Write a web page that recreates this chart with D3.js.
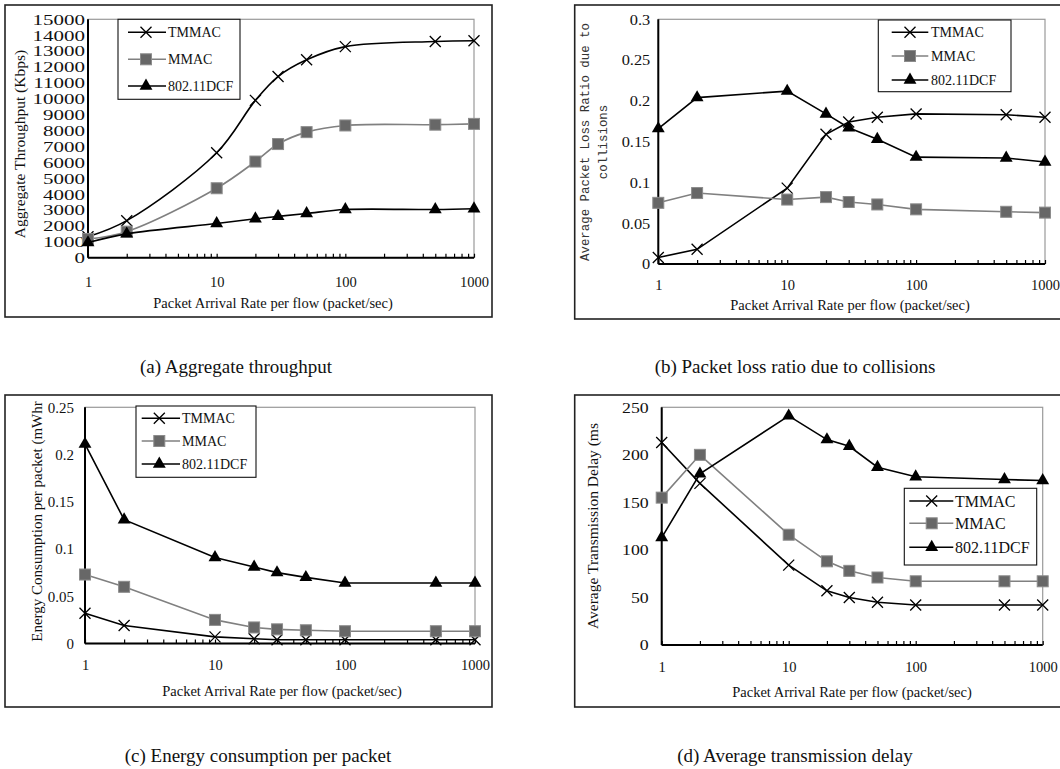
<!DOCTYPE html>
<html><head><meta charset="utf-8">
<script src="https://cdn.jsdelivr.net/npm/d3@7"></script>
<style>
body{margin:0;background:#fff}
svg{display:block}
text{font-family:"Liberation Serif","Times New Roman",serif;fill:#111}
</style>
</head><body>
<svg id="chart" width="1060" height="769"></svg>
<script>
// ---------------- data ----------------
const rates = [1, 2, 10, 20, 30, 50, 100, 500, 1000];
const seriesNames = ["TMMAC", "MMAC", "802.11DCF"];
const xTickLabels = [1, 10, 100, 1000];

const throughputTMMAC = [1320, 2330, 6600, 9900, 11400, 12450, 13280, 13600, 13650];
const throughputMMAC  = [1180, 1640, 4370, 6050, 7150, 7900, 8320, 8370, 8420];
const throughputDCF   = [950, 1500, 2150, 2450, 2600, 2780, 3030, 3030, 3080];
const throughputTicks = [0, 1000, 2000, 3000, 4000, 5000, 6000, 7000, 8000, 9000, 10000, 11000, 12000, 13000, 14000, 15000];

const lossTMMAC = [0.008, 0.018, 0.093, 0.159, 0.174, 0.180, 0.184, 0.183, 0.180];
const lossMMAC  = [0.075, 0.087, 0.079, 0.082, 0.076, 0.073, 0.067, 0.064, 0.063];
const lossDCF   = [0.166, 0.204, 0.212, 0.184, 0.167, 0.153, 0.131, 0.130, 0.125];
const lossTicks = [0, 0.05, 0.1, 0.15, 0.2, 0.25, 0.3];

const energyTMMAC = [0.032, 0.019, 0.007, 0.005, 0.004, 0.004, 0.004, 0.004, 0.004];
const energyMMAC  = [0.073, 0.060, 0.025, 0.017, 0.015, 0.014, 0.013, 0.013, 0.013];
const energyDCF   = [0.211, 0.131, 0.091, 0.081, 0.075, 0.070, 0.064, 0.064, 0.064];
const energyTicks = [0, 0.05, 0.1, 0.15, 0.2, 0.25];

const delayTMMAC = [213, 170, 84, 57, 50, 45, 42, 42, 42];
const delayMMAC  = [155, 200, 116, 88, 78, 71, 67, 67, 67];
const delayDCF   = [113, 180, 241, 216, 209, 187, 177, 174, 173];
const delayTicks = [0, 50, 100, 150, 200, 250];

const xTitle = "Packet Arrival Rate per flow (packet/sec)";
const captions = ["(a)  Aggregate throughput", "(b)  Packet loss ratio due to collisions",
                  "(c)  Energy consumption per packet", "(d)  Average transmission delay"];

// ---------------- layout ----------------
const svg = d3.select("#chart");
const fmtNum = v => String(+v.toFixed(2));

const panels = [
  { series: [throughputTMMAC, throughputMMAC, throughputDCF], ticks: throughputTicks,
    box: [5, 5, 492, 317], plot: [88, 19.3, 474, 257.7], curve: d3.curveCatmullRom,
    yFont: 14, ySx: 1.5, yGap: 3, xLabelY: 282, titleXY: [273, 303],
    ylabel: { lines: ["Aggregate Throughput (Kbps)"], xs: [19.5], cy: 144, font: 15.5, mono: false },
    legend: { box: [118, 19.3, 240, 99.3], ys: [32.3, 59.3, 86], line: [128, 166], mk: 146, tx: 168, font: 14 },
    caption: [236, 366] },
  { series: [lossTMMAC, lossMMAC, lossDCF], ticks: lossTicks,
    box: [574.7, 5, 1066, 319], plot: [658.3, 19.3, 1045, 264], curve: d3.curveLinear,
    yFont: 14, ySx: 1.17, yGap: 8, xLabelY: 285, titleXY: [850, 305],
    ylabel: { lines: ["Average Packet Loss Ratio due to", "collisions"], xs: [585, 603], cy: 142, font: 12.4, mono: true },
    legend: { box: [878.3, 20, 1011, 91.7], ys: [32.3, 56, 80], line: [891.7, 928.3], mk: 910, tx: 931, font: 14 },
    caption: [795, 366] },
  { series: [energyTMMAC, energyMMAC, energyDCF], ticks: energyTicks,
    box: [5, 395, 492, 707], plot: [85, 407.3, 475, 643.5], curve: d3.curveLinear,
    yFont: 14, ySx: 1.07, yGap: 11, xLabelY: 665, titleXY: [282, 691],
    ylabel: { lines: ["Energy Consumption per packet (mWhr"], xs: [36.7], cy: 521.5, font: 15, mono: false },
    legend: { box: [136, 406, 256, 477.3], ys: [418.3, 441, 464], line: [141.7, 180], mk: 159.3, tx: 182, font: 14 },
    caption: [258, 755] },
  { series: [delayTMMAC, delayMMAC, delayDCF], ticks: delayTicks,
    box: [574.7, 395, 1066, 707], plot: [661.7, 407.3, 1042.7, 645], curve: d3.curveLinear,
    yFont: 14, ySx: 1.27, yGap: 13, xLabelY: 667, titleXY: [852, 692],
    ylabel: { lines: ["Average Transmission Delay (ms"], xs: [593], cy: 526, font: 15.5, mono: false },
    legend: { box: [904.3, 488.3, 1036.7, 565], ys: [501, 523.3, 547.3], line: [909.3, 953.3], mk: 931.7, tx: 955, font: 16 },
    caption: [795, 755] }
];

const seriesStyle = [
  { color: "#000", marker: "x" },
  { color: "#808080", marker: "square" },
  { color: "#000", marker: "triangle" }
];

function drawMarker(g, kind, cx, cy) {
  if (kind === "x") {
    const s = 5.5;
    g.append("path").attr("d", `M${cx - s},${cy - s}L${cx + s},${cy + s}M${cx - s},${cy + s}L${cx + s},${cy - s}`)
      .attr("stroke", "#000").attr("stroke-width", 1.3).attr("fill", "none");
  } else if (kind === "square") {
    g.append("rect").attr("x", cx - 5.5).attr("y", cy - 5.5).attr("width", 11).attr("height", 11)
      .attr("fill", "#676767").attr("stroke", "#8c8c8c").attr("stroke-width", 1);
  } else {
    g.append("path").attr("d", d3.symbol().type(d3.symbolTriangle).size(72)())
      .attr("transform", `translate(${cx},${cy})`).attr("fill", "#000");
  }
}

const minorTicks = [];
[1, 10, 100].forEach(d => { for (let m = 1; m <= 9; m++) minorTicks.push(m * d); });
minorTicks.push(1000);

panels.forEach((p, pi) => {
  const g = svg.append("g");
  const [bl, bt, br, bb] = p.box;
  g.append("rect").attr("x", bl).attr("y", bt).attr("width", br - bl).attr("height", bb - bt)
    .attr("fill", "none").attr("stroke", "#222").attr("stroke-width", 1.6);

  const [L, T, R, B] = p.plot;
  const x = d3.scaleLog().domain([1, 1000]).range([L, R]);
  const y = d3.scaleLinear().domain([0, d3.max(p.ticks)]).range([B, T]);

  g.append("rect").attr("x", L).attr("y", T).attr("width", R - L).attr("height", B - T)
    .attr("fill", "none").attr("stroke", "#9a9a9a").attr("stroke-width", 1.2);

  const tk = g.append("g").attr("transform", `translate(0,${B})`)
    .call(d3.axisBottom(x).tickValues(minorTicks).tickSize(-4).tickFormat(() => ""));
  tk.select(".domain").remove();
  tk.selectAll("line").attr("stroke", "#000").attr("stroke-width", 1.2);

  const xl = g.append("g").attr("transform", `translate(0,${p.xLabelY})`)
    .call(d3.axisBottom(x).tickValues(xTickLabels).tickSize(0).tickPadding(0).tickFormat(d3.format("d")));
  xl.attr("font-family", null).attr("font-size", null);
  xl.select(".domain").remove();
  xl.selectAll("text").attr("y", 0).attr("dy", "0.35em").style("font-size", "14.5px");

  const yl = g.append("g").attr("transform", `translate(${L},0)`)
    .call(d3.axisLeft(y).tickValues(p.ticks).tickSize(0).tickFormat(fmtNum));
  yl.attr("font-family", null).attr("font-size", null);
  yl.select(".domain").remove();
  yl.selectAll("text").attr("x", 0).attr("dy", "0.35em")
    .attr("transform", `translate(${-p.yGap},0) scale(${p.ySx},1)`)
    .style("font-size", p.yFont + "px");

  g.append("line").attr("x1", L).attr("x2", L).attr("y1", T).attr("y2", B).attr("stroke", "#000").attr("stroke-width", 2);
  g.append("line").attr("x1", L).attr("x2", R).attr("y1", B).attr("y2", B).attr("stroke", "#000").attr("stroke-width", 2);

  g.append("text").attr("x", p.titleXY[0]).attr("y", p.titleXY[1]).attr("text-anchor", "middle")
    .attr("dy", "0.35em").style("font-size", "14.5px").text(xTitle);

  p.ylabel.lines.forEach((ln, i) => {
    g.append("text").attr("transform", `translate(${p.ylabel.xs[i]},${p.ylabel.cy}) rotate(-90)`)
      .attr("text-anchor", "middle").attr("dy", "0.35em")
      .style("font-size", p.ylabel.font + "px")
      .style("font-family", p.ylabel.mono ? "'Liberation Mono','DejaVu Sans Mono',monospace" : null)
      .style("fill", p.ylabel.mono ? "#333" : "#111")
      .text(ln);
  });

  p.series.forEach((vals, si) => {
    const st = seriesStyle[si];
    const pts = rates.map((r, i) => ({ r, v: vals[i] }));
    const line = d3.line().x(d => x(d.r)).y(d => y(d.v)).curve(p.curve);
    g.append("path").datum(pts).attr("d", line).attr("fill", "none")
      .attr("stroke", st.color).attr("stroke-width", 1.6);
    pts.forEach(d => drawMarker(g, st.marker, x(d.r), y(d.v)));
  });

  const lg = p.legend;
  g.append("rect").attr("x", lg.box[0]).attr("y", lg.box[1]).attr("width", lg.box[2] - lg.box[0])
    .attr("height", lg.box[3] - lg.box[1]).attr("fill", "#fff").attr("stroke", "#111").attr("stroke-width", 1.1);
  seriesNames.forEach((nm, si) => {
    const st = seriesStyle[si];
    const yy = lg.ys[si];
    g.append("line").attr("x1", lg.line[0]).attr("x2", lg.line[1]).attr("y1", yy).attr("y2", yy)
      .attr("stroke", st.color).attr("stroke-width", 1.6);
    drawMarker(g, st.marker, lg.mk, yy);
    g.append("text").attr("x", lg.tx).attr("y", yy).attr("dy", "0.35em")
      .style("font-size", lg.font + "px").text(nm);
  });

  svg.append("text").attr("x", p.caption[0]).attr("y", p.caption[1]).attr("text-anchor", "middle")
    .attr("dy", "0.35em").style("font-size", "19px").text(captions[pi]);
});
</script>
</body></html>
